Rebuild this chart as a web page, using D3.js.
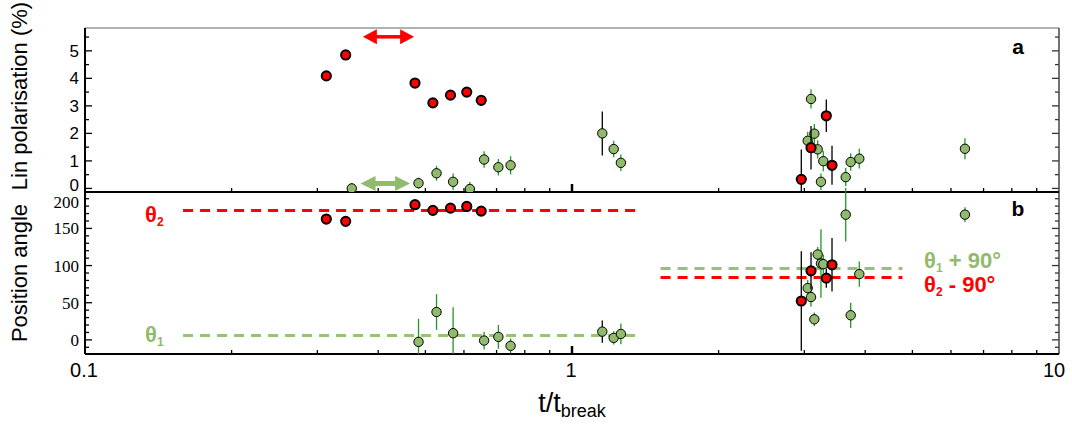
<!DOCTYPE html>
<html>
<head>
<meta charset="utf-8">
<script src="https://cdn.jsdelivr.net/npm/d3@7"></script>
<style>
  body { margin: 0; background: #fff; }
  svg { font-family: "Liberation Sans", Arial, sans-serif; }
</style>
</head>
<body>
<div id="chart"></div>
<script>
// polarised component (red): time, lin. polarisation, position angle
const redT      = [0.313, 0.343, 0.476, 0.518, 0.563, 0.608, 0.651, 2.957, 3.096, 3.328, 3.419];
const redPol    = [4.09, 4.85, 3.83, 3.11, 3.39, 3.50, 3.20, 0.33, 1.48, 2.64, 0.84];
const redPolErr = [0.05, 0.05, 0.05, 0.05, 0.05, 0.05, 0.05, 1.08, 0.79, 0.59, 0.71];
const redPA     = [162.6, 159.5, 181.9, 174.3, 177.3, 179.6, 173.3, 52.3, 92.9, 83.1, 101.0];
const redPAErr  = [1, 1, 1, 1, 1, 1, 1, 67, 25, 13, 36];

// green series, polarisation panel
const greenPolT   = [0.353, 0.484, 0.527, 0.570, 0.617, 0.660, 0.706, 0.748, 1.154, 1.218, 1.260,
                     3.048, 3.096, 3.145, 3.195, 3.245, 3.281, 3.648, 3.735, 3.890, 6.41];
const greenPol    = [0.0, 0.19, 0.55, 0.24, -0.02, 1.05, 0.77, 0.84, 2.0, 1.43, 0.93,
                     1.73, 3.25, 1.99, 1.42, 0.24, 0.99, 0.41, 0.96, 1.08, 1.44];
const greenPolErr = [0.2, 0.2, 0.27, 0.3, 0.25, 0.3, 0.3, 0.33, 0.8, 0.3, 0.3,
                     0.33, 0.35, 0.35, 0.33, 0.3, 0.37, 0.33, 0.32, 0.36, 0.38];

// green series, position angle panel
const greenPAT   = [0.484, 0.527, 0.570, 0.660, 0.706, 0.748, 1.154, 1.218, 1.260,
                    3.048, 3.096, 3.145, 3.195, 3.245, 3.281, 3.648, 3.735, 3.890, 6.41];
const greenPA    = [-2.7, 37.5, 9, -0.9, 4, -8, 11.1, 2.7, 8,
                    69.7, 57.6, 27.7, 114.9, 102.8, 101.9, 168.5, 33.1, 88.5, 168.5];
const greenPAErr = [31, 24, 35, 12, 16, 10, 15, 9, 14,
                    11, 13, 9, 10, 46, 13, 36, 17, 17, 10];

// epochs measured with the other instrument (black error bars)
const otherInstrT = [1.154];

// reference angles and their time ranges
const theta1 = 6, theta2 = 174;
const earlyRange = [0.159, 1.378];
const lateRange  = [1.52, 4.77];

// double arrows
const redArrowT = [0.372, 0.474], redArrowPol = 5.51;
const greenArrowT = [0.368, 0.465], greenArrowPol = 0.18;

const xTicks = [0.1, 1, 10];
const polTicks = [0, 1, 2, 3, 4, 5];
const paTicks = [0, 50, 100, 150, 200];

const W = 1072, H = 424;
const L = 85, R = 1059;
const topP = [28, 192], botP = [192, 354];

const svg = d3.select("#chart").append("svg")
  .attr("width", W).attr("height", H);

const x = d3.scaleLog().domain([0.1, 10]).range([L, R]);
const yPol = d3.scaleLinear().domain([-0.13, 5.83]).range([topP[1], topP[0]]);
const yPA = d3.scaleLinear().domain([-19, 199]).range([botP[1], botP[0]]);

const GREEN = "#90bb6c", GREEN_BAR = "#1f9a1f", GREEN_DASH = "#96c274", RED = "#ff0000";

// clip paths
const defs = svg.append("defs");
defs.append("clipPath").attr("id", "clipTop").append("rect")
  .attr("x", L).attr("y", topP[0]).attr("width", R - L).attr("height", topP[1] - topP[0]);
defs.append("clipPath").attr("id", "clipBot").append("rect")
  .attr("x", L).attr("y", botP[0] - 10).attr("width", R - L).attr("height", botP[1] - botP[0] + 10);

const minorX = d3.range(2, 10).map(d => d * 0.1).concat(d3.range(2, 10));

// frame + ticks for a panel
function panelFrame(y, yMinor, yMajor, p, serif, labelShift) {
  const g = svg.append("g");
  // y ticks on both sides
  yMinor.forEach(v => {
    const isMajor = yMajor.includes(v);
    const len = isMajor ? 7 : 4;
    g.append("line").attr("x1", L).attr("x2", L + len).attr("y1", y(v)).attr("y2", y(v))
      .attr("stroke", "#000").attr("stroke-width", 1.3);
    g.append("line").attr("x1", R).attr("x2", R - len).attr("y1", y(v)).attr("y2", y(v))
      .attr("stroke", "#333").attr("stroke-width", 1.3);
  });
  g.selectAll("text.yl").data(yMajor).join("text")
    .attr("x", 79)
    .attr("y", (d, i) => y(d) + 6 + labelShift(i))
    .attr("text-anchor", "end")
    .attr("font-size", 17)
    .attr("font-family", serif ? "'Liberation Serif', 'Times New Roman', serif" : "'Liberation Sans', Arial, sans-serif")
    .text(d => d);
  // x ticks pointing up from panel bottom
  minorX.forEach(v => {
    g.append("line").attr("x1", x(v)).attr("x2", x(v)).attr("y1", p[1]).attr("y2", p[1] - 4)
      .attr("stroke", "#000").attr("stroke-width", 1.3);
  });
  g.append("line").attr("x1", x(1)).attr("x2", x(1)).attr("y1", p[1]).attr("y2", p[1] - 8)
    .attr("stroke", "#000").attr("stroke-width", 2.5);
  return g;
}

panelFrame(yPol, d3.range(0, 5.81, 0.5).map(d => +d.toFixed(1)), polTicks, topP, false,
  i => (i === 0 ? -3 : 0));
panelFrame(yPA, d3.range(-10, 200, 10), paTicks, botP, true,
  i => (i === paTicks.length - 1 ? 11 : 0));

// borders
svg.append("line").attr("x1", L).attr("x2", R).attr("y1", topP[0]).attr("y2", topP[0])
  .attr("stroke", "#666").attr("stroke-width", 1.2);
svg.append("line").attr("x1", R).attr("x2", R).attr("y1", topP[0]).attr("y2", botP[1])
  .attr("stroke", "#444").attr("stroke-width", 1.5);
svg.append("line").attr("x1", L).attr("x2", L).attr("y1", topP[0]).attr("y2", botP[1])
  .attr("stroke", "#000").attr("stroke-width", 2);
svg.append("line").attr("x1", L).attr("x2", R).attr("y1", topP[1]).attr("y2", topP[1])
  .attr("stroke", "#000").attr("stroke-width", 2);
svg.append("line").attr("x1", L).attr("x2", R).attr("y1", botP[1]).attr("y2", botP[1])
  .attr("stroke", "#000").attr("stroke-width", 2);

// x tick labels
svg.selectAll("text.xl").data(xTicks).join("text")
  .attr("x", (d, i) => x(d) + (i === 2 ? -5 : -1))
  .attr("y", 377)
  .attr("text-anchor", "middle")
  .attr("font-size", 20)
  .text(d => d);

// axis titles
const xt = svg.append("text").attr("x", 572).attr("y", 412).attr("text-anchor", "middle")
  .attr("font-size", 27);
xt.append("tspan").text("t/t");
xt.append("tspan").attr("font-size", 18).attr("dy", 5).text("break");

svg.append("text").attr("transform", "translate(27,96) rotate(-90)")
  .attr("text-anchor", "middle").attr("font-size", 22).text("Lin polarisation (%)");
svg.append("text").attr("transform", "translate(27,273) rotate(-90)")
  .attr("text-anchor", "middle").attr("font-size", 22).text("Position angle");

// panel letters
svg.append("text").attr("x", 1018).attr("y", 54).attr("text-anchor", "middle")
  .attr("font-size", 21).attr("font-weight", "bold").text("a");
svg.append("text").attr("x", 1018).attr("y", 216).attr("text-anchor", "middle")
  .attr("font-size", 21).attr("font-weight", "bold").text("b");

// dashed reference lines
const dashes = [
  {r: earlyRange, v: theta2, c: RED},
  {r: earlyRange, v: theta1, c: GREEN_DASH},
  {r: lateRange, v: theta1 + 90, c: GREEN_DASH},
  {r: lateRange, v: theta2 - 90, c: RED}
];
svg.append("g").selectAll("line").data(dashes).join("line")
  .attr("x1", d => x(d.r[0])).attr("x2", d => x(d.r[1]))
  .attr("y1", d => yPA(d.v)).attr("y2", d => yPA(d.v))
  .attr("stroke", d => d.c).attr("stroke-width", 3)
  .attr("stroke-dasharray", "10,7");

function thetaLabel(xp, yp, sub, rest, color) {
  const t = svg.append("text").attr("x", xp).attr("y", yp).attr("fill", color)
    .attr("font-size", 22).attr("font-weight", "bold");
  t.append("tspan").text("θ");
  t.append("tspan").attr("font-size", 12).attr("dy", 4).text(sub);
  if (rest) t.append("tspan").attr("dy", -4).text(rest);
}
thetaLabel(145, 222, "2", "", RED);
thetaLabel(145, 342, "1", "", GREEN);
thetaLabel(924, 268, "1", " + 90°", GREEN);
thetaLabel(924, 292, "2", " - 90°", RED);

// double arrows
function dblArrow(t0, t1, yv, color, sw, hl, hw) {
  const x0 = x(t0), x1 = x(t1), yy = yPol(yv);
  const g = svg.append("g");
  g.append("line").attr("x1", x0 + hl - 1).attr("x2", x1 - hl + 1).attr("y1", yy).attr("y2", yy)
    .attr("stroke", color).attr("stroke-width", sw);
  g.append("path").attr("fill", color)
    .attr("d", `M${x0},${yy} L${x0 + hl},${yy - hw} L${x0 + hl},${yy + hw} Z`);
  g.append("path").attr("fill", color)
    .attr("d", `M${x1},${yy} L${x1 - hl},${yy - hw} L${x1 - hl},${yy + hw} Z`);
}
dblArrow(redArrowT[0], redArrowT[1], redArrowPol, RED, 3.5, 14, 7.5);
dblArrow(greenArrowT[0], greenArrowT[1], greenArrowPol, GREEN, 5, 15, 7.5);

// series drawing
function series(clip, y, ts, vs, es, fill, barColor, r, sw) {
  const g = svg.append("g").attr("clip-path", `url(#${clip})`);
  const data = ts.map((t, i) => ({t, v: vs[i], e: es[i]}));
  g.selectAll("line").data(data).join("line")
    .attr("x1", d => x(d.t)).attr("x2", d => x(d.t))
    .attr("y1", d => y(d.v - d.e)).attr("y2", d => y(d.v + d.e))
    .attr("stroke", d => otherInstrT.includes(d.t) ? "#000" : barColor)
    .attr("stroke-width", 1.3);
  g.selectAll("circle").data(data).join("circle")
    .attr("cx", d => x(d.t)).attr("cy", d => y(d.v)).attr("r", r)
    .attr("fill", fill).attr("stroke", "#000").attr("stroke-width", sw);
}

series("clipTop", yPol, greenPolT, greenPol, greenPolErr, GREEN, GREEN_BAR, 4.7, 1);
series("clipTop", yPol, redT, redPol, redPolErr, RED, "#000", 4.6, 2);
series("clipBot", yPA, greenPAT, greenPA, greenPAErr, GREEN, GREEN_BAR, 4.7, 1);
series("clipBot", yPA, redT, redPA, redPAErr, RED, "#000", 4.6, 2);
</script>
</body>
</html>
